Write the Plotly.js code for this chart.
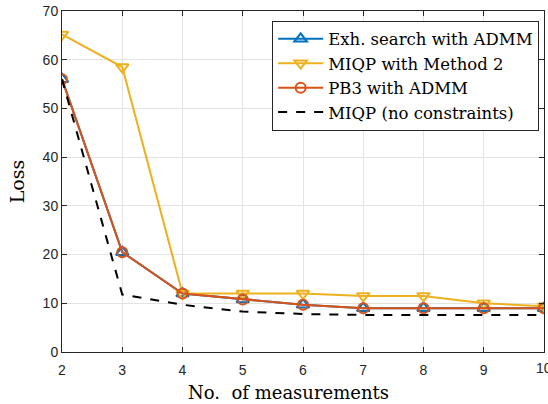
<!DOCTYPE html>
<html>
<head>
<meta charset="utf-8">
<script src="https://cdn.plot.ly/plotly-3.0.1.min.js"></script>
<style>html,body{margin:0;padding:0;background:#fff;overflow:hidden;}#chart{width:548px;height:404px;}</style>
</head>
<body>
<div id="chart"></div>
<script>
const measurements = [2, 3, 4, 5, 6, 7, 8, 9, 10];
const exhSearchADMM = [56, 20.5, 12.0, 10.8, 9.7, 9.0, 9.0, 9.0, 9.0];
const miqpMethod2   = [65.2, 58.5, 12.0, 12.0, 12.0, 11.5, 11.5, 10.0, 9.4];
const pb3ADMM       = [56, 20.5, 12.0, 10.8, 9.7, 9.0, 9.0, 9.0, 9.0];
const miqpNoConstr  = [56, 11.8, 9.7, 8.3, 7.8, 7.6, 7.6, 7.6, 7.6];
const seriesNames = ["Exh. search with ADMM", "MIQP with Method 2", "PB3 with ADMM", "MIQP (no constraints)"];
const xTicks = [2,3,4,5,6,7,8,9,10];
const yTicks = [0,10,20,30,40,50,60,70];
const xTitle = "No.  of measurements";
const yTitle = "Loss";

const blue = "#0072BD", yellow = "#EDB120", orange = "#D95319";
const serif = "DejaVu Serif, Liberation Serif, serif";
const sans = "Liberation Sans, Arial, sans-serif";
const traces = [
  {x: measurements, y: exhSearchADMM, name: seriesNames[0], mode: "lines+markers",
   line: {color: blue, width: 2}, marker: {symbol: "triangle-up-open", size: 11, color: blue, line: {width: 2}}},
  {x: measurements, y: miqpMethod2, name: seriesNames[1], mode: "lines+markers",
   line: {color: yellow, width: 2}, marker: {symbol: "triangle-down-open", size: 11, color: yellow, line: {width: 2}}},
  {x: measurements, y: pb3ADMM, name: seriesNames[2], mode: "lines+markers",
   line: {color: orange, width: 2}, marker: {symbol: "circle-open", size: 10, color: orange, line: {width: 2}}},
  {x: measurements, y: miqpNoConstr, name: seriesNames[3], mode: "lines",
   line: {color: "#000000", width: 2, dash: "dash"}}
];
const axisCommon = {
  showline: true, mirror: "ticks", linecolor: "#262626", linewidth: 1,
  ticks: "inside", ticklen: 5, tickcolor: "#262626",
  showgrid: true, gridcolor: "#e3e3e3", gridwidth: 1, zeroline: false,
  tickfont: {family: sans, size: 14, color: "#262626"}
};
const lastX = xTicks[xTicks.length - 1];
const layout = {
  width: 548, height: 404,
  margin: {l: 62, r: 4, t: 11, b: 52},
  paper_bgcolor: "#fff", plot_bgcolor: "#fff",
  showlegend: true,
  legend: {x: 0.436, y: 0.972, xanchor: "left", yanchor: "top",
    bgcolor: "#fff", bordercolor: "#262626", borderwidth: 1,
    font: {family: serif, size: 16.5, color: "#000"},
    tracegroupgap: 0, itemwidth: 45},
  xaxis: Object.assign({}, axisCommon, {range: [2, 10], tickvals: xTicks, ticktext: xTicks.map(String),
    ticklabelstandoff: 5}),
  yaxis: Object.assign({}, axisCommon, {range: [0, 70], tickvals: yTicks, ticktext: yTicks.map(String),
    title: {text: yTitle, font: {family: serif, size: 19, color: "#000"}, standoff: 12}}),
  annotations: [
    {x: lastX, xref: "x", y: 0, yref: "paper", text: String(lastX), showarrow: false,
     xanchor: "center", yanchor: "top", yshift: -6, font: {family: sans, size: 14, color: "#262626"}},
    {x: 0.469, xref: "paper", y: 0, yref: "paper", text: xTitle, showarrow: false,
     xanchor: "center", yanchor: "top", yshift: -28, font: {family: serif, size: 18, color: "#000"}}
  ]
};
Plotly.newPlot("chart", traces, layout, {displayModeBar: false, staticPlot: true});
</script>
</body>
</html>
